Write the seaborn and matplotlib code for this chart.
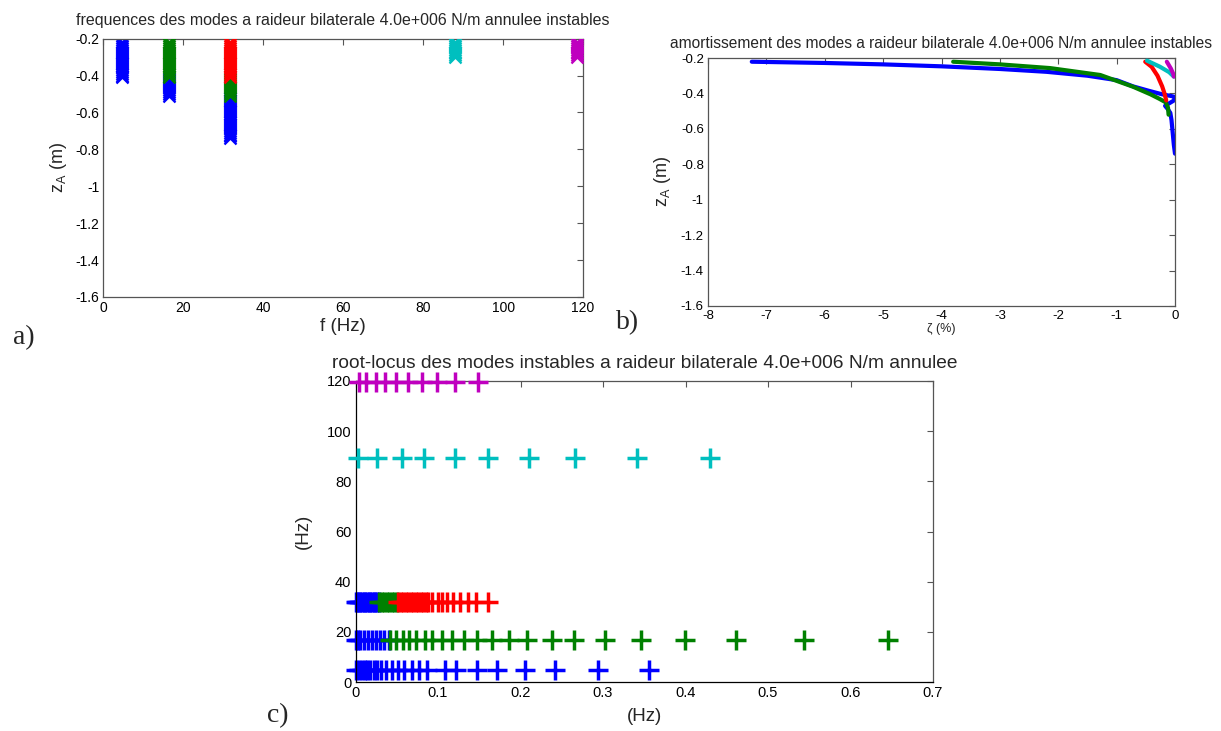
import numpy as np
import pandas as pd
import matplotlib
matplotlib.use("Agg")
import matplotlib.pyplot as plt
import seaborn as sns

# ---------------- data ----------------
# MATLAB colour order used by the figure
COLORS = ["#0000ff", "#008000", "#ff0000", "#00bfbf", "#bf00bf"]

# Panel a) : frequency of unstable modes vs z_A  (segments: colour, frequency, z values)
Z_SEG_TOP = [-0.22, -0.23, -0.24, -0.25, -0.26, -0.27, -0.28, -0.29, -0.30, -0.31,
             -0.32, -0.33, -0.34, -0.35, -0.36, -0.37, -0.38, -0.39, -0.40, -0.41]
Z_SEG_MID = [-0.42, -0.43, -0.44, -0.45, -0.46, -0.47, -0.48, -0.49, -0.50, -0.51]
Z_SEG_LOW = [-0.52, -0.53, -0.54, -0.55, -0.56, -0.57, -0.58, -0.59, -0.60, -0.61,
             -0.62, -0.63, -0.64, -0.65, -0.66, -0.67, -0.68, -0.69, -0.70, -0.71,
             -0.72, -0.73, -0.74]
Z_SEG_HIGH = [-0.22, -0.23, -0.24, -0.25, -0.26, -0.27, -0.28, -0.29, -0.30]

MODE_FREQS = [4.6, 16.5, 31.6, 88.0, 118.4]   # Hz

# (series index, mode frequency index, z list)
A_SEGMENTS = [
    (0, 0, Z_SEG_TOP), (0, 1, Z_SEG_MID), (0, 2, Z_SEG_LOW),
    (1, 1, Z_SEG_TOP), (1, 2, Z_SEG_MID),
    (2, 2, Z_SEG_TOP),
    (3, 3, Z_SEG_HIGH),
    (4, 4, Z_SEG_HIGH),
]

# Panel b) : damping (%) vs z_A, one line per series
B_ZETA = [
    [-7.25, -6.0, -5.0, -4.0, -3.0, -2.2, -1.5, -1.0, -0.72, -0.45, -0.22, -0.06, 0.0,
     -0.02, -0.17, -0.12, -0.08, -0.06, -0.04, -0.02, 0.0],
    [-3.8, -3.0, -2.14, -1.28, -0.72, -0.42, -0.27, -0.16, -0.12, -0.11],
    [-0.51, -0.40, -0.30, -0.22, -0.18, -0.15],
    [-0.48, -0.26, -0.10, -0.02],
    [-0.14, -0.07, -0.03, -0.02],
]
B_Z = [
    [-0.221, -0.228, -0.236, -0.247, -0.262, -0.278, -0.300, -0.325, -0.360, -0.385, -0.405, -0.415, -0.420,
     -0.440, -0.470, -0.490, -0.510, -0.550, -0.620, -0.690, -0.740],
    [-0.221, -0.236, -0.257, -0.296, -0.362, -0.405, -0.430, -0.450, -0.480, -0.520],
    [-0.221, -0.250, -0.300, -0.360, -0.400, -0.440],
    [-0.215, -0.249, -0.280, -0.305],
    [-0.221, -0.260, -0.290, -0.305],
]

# Panel c) : root locus, (series index, frequency row in Hz, real parts in Hz)
C_ROWS = [
    (0, 4.85, [0.356, 0.294, 0.242, 0.205, 0.172, 0.147, 0.122, 0.108, 0.0865, 0.077, 0.068,
               0.059, 0.051, 0.044, 0.037, 0.031, 0.026, 0.022, 0.018, 0.014, 0.011, 0.008,
               0.004, 0.001]),
    (0, 16.7, [0.040, 0.035, 0.030, 0.025, 0.020, 0.015, 0.010, 0.006, 0.003, 0.001]),
    (0, 31.9, [0.028, 0.026, 0.024, 0.022, 0.020, 0.018, 0.016, 0.014, 0.012, 0.010, 0.008,
               0.006, 0.004, 0.002, 0.0]),
    (1, 16.7, [0.645, 0.544, 0.461, 0.399, 0.346, 0.303, 0.265, 0.238, 0.208, 0.186, 0.166,
               0.147, 0.131, 0.117, 0.105, 0.093, 0.084, 0.0735, 0.065, 0.057, 0.049, 0.042]),
    (1, 31.9, [0.050, 0.047, 0.044, 0.041, 0.038, 0.035, 0.032, 0.029]),
    (2, 31.9, [0.161, 0.146, 0.136, 0.127, 0.118, 0.111, 0.105, 0.100, 0.093, 0.088, 0.085,
               0.082, 0.079, 0.076, 0.073, 0.070, 0.067, 0.064, 0.061, 0.058, 0.055, 0.052]),
    (3, 89.5, [0.430, 0.341, 0.266, 0.210, 0.161, 0.120, 0.0836, 0.056, 0.0258, 0.0034]),
    (4, 119.6, [0.149, 0.121, 0.099, 0.080, 0.064, 0.049, 0.036, 0.025, 0.013, 0.004]),
]

TITLE_A = "frequences des modes a raideur bilaterale 4.0e+006 N/m annulee instables"
TITLE_B = "amortissement des modes a raideur bilaterale 4.0e+006 N/m annulee instables"
TITLE_C = "root-locus des modes instables a raideur bilaterale 4.0e+006 N/m annulee"

# ---------------- style ----------------
sns.set_style("white")
plt.rcParams["font.family"] = ["Liberation Sans", "DejaVu Sans"]
plt.rcParams["axes.unicode_minus"] = False
plt.rcParams["mathtext.fontset"] = "custom"
plt.rcParams["mathtext.rm"] = "Liberation Sans"
plt.rcParams["mathtext.it"] = "Liberation Sans:italic"

W, H = 1221, 731
fig = plt.figure(figsize=(W / 100, H / 100), dpi=100)


def axes_px(left, top, right, bottom):
    return fig.add_axes([left / W, 1 - bottom / H, (right - left) / W, (bottom - top) / H])


def style(ax, fs=10):
    for s in ax.spines.values():
        s.set_color("#555555")
        s.set_linewidth(0.9)
    ax.tick_params(direction="in", top=True, right=True, length=4, width=0.8,
                   color="#555555", labelsize=fs, pad=3, labelcolor="black")


# ---------------- panel a ----------------
axA = axes_px(103.5, 38.6, 583, 297)
rows = []
for si, fi, zs in A_SEGMENTS:
    for z in zs:
        rows.append({"serie": si, "f": MODE_FREQS[fi], "z": z})
dfA = pd.DataFrame(rows)
for si in range(5):
    sub = dfA[dfA.serie == si]
    sns.scatterplot(data=sub, x="f", y="z", ax=axA, marker="x", s=75,
                    linewidth=1.6, color=COLORS[si], legend=False, zorder=2 + si)
axA.set_xlim(0, 120)
axA.set_ylim(-1.6, -0.2)
axA.set_xticks(np.arange(0, 121, 20))
yt = np.round(np.arange(-1.6, -0.19, 0.2), 1)
axA.set_yticks(yt)
axA.set_yticklabels([f"{v:g}" for v in yt])
style(axA)
axA.set_title(TITLE_A, fontsize=11.5, pad=10)
axA.set_xlabel("f (Hz)", fontsize=13.5)
axA.set_ylabel(r"z$_\mathrm{A}$ (m)", fontsize=13)
axA.xaxis.set_label_coords(0.5, -0.08)
axA.yaxis.set_label_coords(-0.072, 0.5)

# ---------------- panel b ----------------
axB = axes_px(708, 58, 1175, 306)
for si in range(5):
    dfb = pd.DataFrame({"zeta": B_ZETA[si], "z": B_Z[si]})
    sns.lineplot(data=dfb, x="zeta", y="z", ax=axB, sort=False, estimator=None,
                 color=COLORS[si], linewidth=3.0, legend=False, zorder=2 + si)
axB.set_xlim(-8, 0)
axB.set_ylim(-1.6, -0.2)
axB.set_xticks(np.arange(-8, 1, 1))
axB.set_yticks(yt)
axB.set_yticklabels([f"{v:g}" for v in yt])
style(axB, fs=9.5)
axB.set_title(TITLE_B, fontsize=11.2, pad=7)
axB.set_xlabel("ζ (%)", fontsize=9)
axB.set_ylabel(r"z$_\mathrm{A}$ (m)", fontsize=13)
axB.xaxis.set_label_coords(0.5, -0.07)
axB.yaxis.set_label_coords(-0.075, 0.5)

# ---------------- panel c ----------------
axC = axes_px(355.5, 381, 933, 682)
rows = []
for si, f, xs in C_ROWS:
    for x in xs:
        rows.append({"serie": si, "re": x, "f": f})
dfC = pd.DataFrame(rows)
for si in range(5):
    sub = dfC[dfC.serie == si]
    sns.scatterplot(data=sub, x="re", y="f", ax=axC, marker="+", s=210,
                    linewidth=2.5, color=COLORS[si], legend=False, clip_on=False,
                    zorder=2 + si)
axC.set_xlim(0, 0.7)
axC.set_ylim(0, 120)
xt = np.round(np.arange(0, 0.71, 0.1), 1)
axC.set_xticks(xt)
axC.set_xticklabels([f"{v:g}" for v in xt])
axC.set_yticks(np.arange(0, 121, 20))
style(axC, fs=10.5)
axC.spines["left"].set_color("black")
axC.spines["bottom"].set_color("black")
axC.set_title(TITLE_C, fontsize=13.8, pad=9)
axC.set_xlabel("(Hz)", fontsize=13.5)
axC.set_ylabel("(Hz)", fontsize=13.5)
axC.xaxis.set_label_coords(0.5, -0.085)
axC.yaxis.set_label_coords(-0.075, 0.5)

# ---------------- panel letters ----------------
for txt, x, y in [("a)", 24, 338), ("b)", 628, 323), ("c)", 278, 716)]:
    fig.text(x / W, 1 - y / H, txt, fontsize=20, family="Liberation Serif",
             ha="center", va="center")

fig.savefig("out.png", dpi=100)
